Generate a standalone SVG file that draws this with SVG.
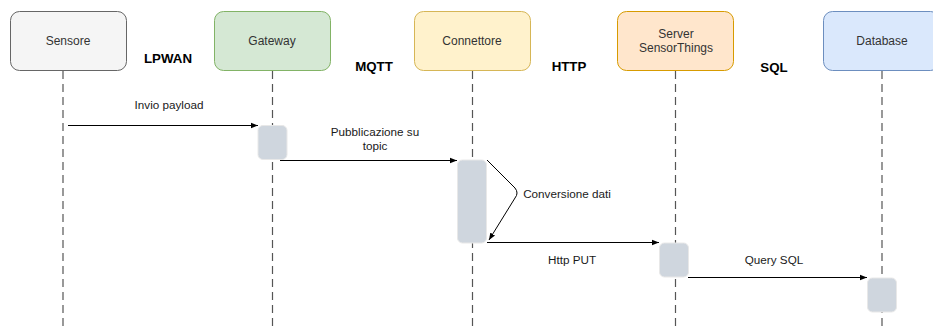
<svg xmlns="http://www.w3.org/2000/svg" width="933" height="327" viewBox="0 0 933 327">
  <style>
    .box { stroke-width: 1; }
    .lbl { font-family: "Liberation Sans", Arial, sans-serif; font-size: 12px; fill: #333333; text-anchor: middle; }
    .msg { font-family: "Liberation Sans", Arial, sans-serif; font-size: 11.7px; fill: #1a1a1a; text-anchor: middle; }
    .proto { font-family: "Liberation Sans", Arial, sans-serif; font-size: 13.3px; font-weight: bold; fill: #000; text-anchor: middle; }
    .life { stroke: #555555; stroke-width: 1.2; stroke-dasharray: 8 5; fill: none; }
    .act { fill: #cfd6de; stroke: #e8e8e8; stroke-width: 1; }
    .conn { stroke: #000; stroke-width: 1; fill: none; }
  </style>
  <defs>
    <marker id="arrow" viewBox="0 0 10 10" refX="10" refY="5" markerWidth="7" markerHeight="7" orient="auto" markerUnits="userSpaceOnUse">
      <path d="M0,1 L10,5 L0,9 Z" fill="#000"/>
    </marker>
  </defs>
  <rect width="933" height="327" fill="#ffffff"/>

  <!-- lifelines -->
  <g id="lifelines">
    <line class="life" x1="63" y1="71" x2="63" y2="327"/>
    <line class="life" x1="272.5" y1="71" x2="272.5" y2="327"/>
    <line class="life" x1="472.5" y1="71" x2="472.5" y2="327"/>
    <line class="life" x1="675.5" y1="71" x2="675.5" y2="327"/>
    <line class="life" x1="882" y1="71" x2="882" y2="327"/>
  </g>

  <g id="sensore">
    <rect class="box" x="10.5" y="11.5" width="116" height="59" rx="9" fill="#f5f5f5" stroke="#666666"/>
    <text class="lbl" x="68" y="45">Sensore</text>
  </g>
  <g id="gateway">
    <rect class="box" x="214.5" y="11.5" width="116" height="59" rx="9" fill="#d5e8d4" stroke="#82b366"/>
    <text class="lbl" x="272" y="45">Gateway</text>
    <rect class="act" x="258" y="125.5" width="29" height="34" rx="5"/>
  </g>
  <g id="connettore">
    <rect class="box" x="414.5" y="11.5" width="116" height="59" rx="9" fill="#fff2cc" stroke="#d6b656"/>
    <text class="lbl" x="472" y="45">Connettore</text>
    <rect class="act" x="457.5" y="160" width="29" height="83" rx="5"/>
  </g>
  <g id="server">
    <rect class="box" x="617.5" y="11.5" width="116" height="59" rx="9" fill="#ffe6cc" stroke="#d79b00"/>
    <text class="lbl" x="676" y="38">Server</text>
    <text class="lbl" x="676" y="52">SensorThings</text>
    <rect class="act" x="659.5" y="243" width="29" height="34" rx="5"/>
  </g>
  <g id="database">
    <rect class="box" x="823.5" y="11.5" width="116" height="59" rx="9" fill="#dae8fc" stroke="#6c8ebf"/>
    <text class="lbl" x="882" y="45">Database</text>
    <rect class="act" x="867.5" y="278" width="29" height="34" rx="5"/>
  </g>

  <!-- protocol labels -->
  <g id="protocols">
    <text class="proto" x="168" y="63">LPWAN</text>
    <text class="proto" x="374" y="71">MQTT</text>
    <text class="proto" x="569" y="71">HTTP</text>
    <text class="proto" x="774" y="72">SQL</text>
  </g>

  <!-- messages -->
  <g id="connectors">
    <line class="conn" x1="68" y1="125.5" x2="258" y2="125.5" marker-end="url(#arrow)"/>
    <line class="conn" x1="280" y1="160.5" x2="457" y2="160.5" marker-end="url(#arrow)"/>
    <path class="conn" d="M487,160 L515,188 Q519,193 515,198 L489,240" marker-end="url(#arrow)"/>
    <line class="conn" x1="487" y1="242.5" x2="659" y2="242.5" marker-end="url(#arrow)"/>
    <line class="conn" x1="688" y1="277.5" x2="867" y2="277.5" marker-end="url(#arrow)"/>
  </g>

  <g id="message-labels">
    <text class="msg" x="169" y="109">Invio payload</text>
    <text class="msg" x="375" y="136">Pubblicazione su</text>
    <text class="msg" x="375" y="150">topic</text>
    <text class="msg" x="567" y="198">Conversione dati</text>
    <text class="msg" x="572" y="264">Http PUT</text>
    <text class="msg" x="774" y="264">Query SQL</text>
  </g>
</svg>
